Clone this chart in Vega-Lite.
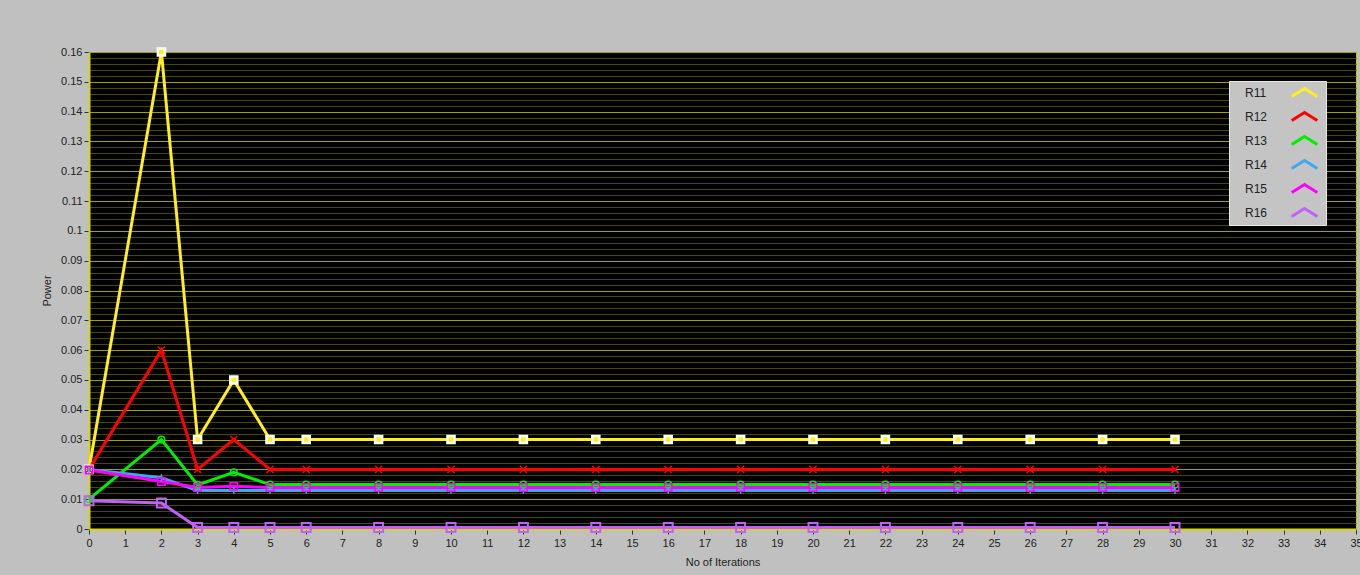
{
  "$schema": "https://vega.github.io/schema/vega-lite/v6.json",
  "width": 1267,
  "height": 477,
  "autosize": {"type": "none"},
  "padding": {"left": 89, "top": 52, "right": 4, "bottom": 46},
  "background": "#c0c0c0",
  "config": {
    "view": {"fill": "#000000", "stroke": "#c8c800", "strokeWidth": 1},
    "font": "Liberation Sans",
    "axis": {"labelFont": "Liberation Sans", "titleFont": "Liberation Sans", "labelFontSize": 11, "titleFontSize": 11, "titleFontWeight": "normal", "labelColor": "#222222", "titleColor": "#222222", "tickColor": "#333333", "tickSize": 5}
  },
  "datasets": {
    "power": [
      {"s": "R11", "x": 0, "y": 0.02}, {"s": "R11", "x": 2, "y": 0.16}, {"s": "R11", "x": 3, "y": 0.03}, {"s": "R11", "x": 4, "y": 0.05}, {"s": "R11", "x": 5, "y": 0.03}, {"s": "R11", "x": 6, "y": 0.03}, {"s": "R11", "x": 8, "y": 0.03}, {"s": "R11", "x": 10, "y": 0.03}, {"s": "R11", "x": 12, "y": 0.03}, {"s": "R11", "x": 14, "y": 0.03}, {"s": "R11", "x": 16, "y": 0.03}, {"s": "R11", "x": 18, "y": 0.03}, {"s": "R11", "x": 20, "y": 0.03}, {"s": "R11", "x": 22, "y": 0.03}, {"s": "R11", "x": 24, "y": 0.03}, {"s": "R11", "x": 26, "y": 0.03}, {"s": "R11", "x": 28, "y": 0.03}, {"s": "R11", "x": 30, "y": 0.03},
      {"s": "R12", "x": 0, "y": 0.02}, {"s": "R12", "x": 2, "y": 0.06}, {"s": "R12", "x": 3, "y": 0.02}, {"s": "R12", "x": 4, "y": 0.03}, {"s": "R12", "x": 5, "y": 0.02}, {"s": "R12", "x": 6, "y": 0.02}, {"s": "R12", "x": 8, "y": 0.02}, {"s": "R12", "x": 10, "y": 0.02}, {"s": "R12", "x": 12, "y": 0.02}, {"s": "R12", "x": 14, "y": 0.02}, {"s": "R12", "x": 16, "y": 0.02}, {"s": "R12", "x": 18, "y": 0.02}, {"s": "R12", "x": 20, "y": 0.02}, {"s": "R12", "x": 22, "y": 0.02}, {"s": "R12", "x": 24, "y": 0.02}, {"s": "R12", "x": 26, "y": 0.02}, {"s": "R12", "x": 28, "y": 0.02}, {"s": "R12", "x": 30, "y": 0.02},
      {"s": "R13", "x": 0, "y": 0.01}, {"s": "R13", "x": 2, "y": 0.03}, {"s": "R13", "x": 3, "y": 0.0148}, {"s": "R13", "x": 4, "y": 0.019}, {"s": "R13", "x": 5, "y": 0.0149}, {"s": "R13", "x": 6, "y": 0.0149}, {"s": "R13", "x": 8, "y": 0.0149}, {"s": "R13", "x": 10, "y": 0.0149}, {"s": "R13", "x": 12, "y": 0.0149}, {"s": "R13", "x": 14, "y": 0.0149}, {"s": "R13", "x": 16, "y": 0.0149}, {"s": "R13", "x": 18, "y": 0.0149}, {"s": "R13", "x": 20, "y": 0.0149}, {"s": "R13", "x": 22, "y": 0.0149}, {"s": "R13", "x": 24, "y": 0.0149}, {"s": "R13", "x": 26, "y": 0.0149}, {"s": "R13", "x": 28, "y": 0.0149}, {"s": "R13", "x": 30, "y": 0.0149},
      {"s": "R14", "x": 0, "y": 0.02}, {"s": "R14", "x": 2, "y": 0.0172}, {"s": "R14", "x": 3, "y": 0.0129}, {"s": "R14", "x": 4, "y": 0.0129}, {"s": "R14", "x": 5, "y": 0.0129}, {"s": "R14", "x": 6, "y": 0.0129}, {"s": "R14", "x": 8, "y": 0.0129}, {"s": "R14", "x": 10, "y": 0.0129}, {"s": "R14", "x": 12, "y": 0.0129}, {"s": "R14", "x": 14, "y": 0.0129}, {"s": "R14", "x": 16, "y": 0.0129}, {"s": "R14", "x": 18, "y": 0.0129}, {"s": "R14", "x": 20, "y": 0.0129}, {"s": "R14", "x": 22, "y": 0.0129}, {"s": "R14", "x": 24, "y": 0.0129}, {"s": "R14", "x": 26, "y": 0.0129}, {"s": "R14", "x": 28, "y": 0.0129}, {"s": "R14", "x": 30, "y": 0.0129},
      {"s": "R15", "x": 0, "y": 0.0198}, {"s": "R15", "x": 2, "y": 0.0159}, {"s": "R15", "x": 3, "y": 0.0139}, {"s": "R15", "x": 4, "y": 0.0143}, {"s": "R15", "x": 5, "y": 0.0139}, {"s": "R15", "x": 6, "y": 0.0139}, {"s": "R15", "x": 8, "y": 0.0139}, {"s": "R15", "x": 10, "y": 0.0139}, {"s": "R15", "x": 12, "y": 0.0139}, {"s": "R15", "x": 14, "y": 0.0139}, {"s": "R15", "x": 16, "y": 0.0139}, {"s": "R15", "x": 18, "y": 0.0139}, {"s": "R15", "x": 20, "y": 0.0139}, {"s": "R15", "x": 22, "y": 0.0139}, {"s": "R15", "x": 24, "y": 0.0139}, {"s": "R15", "x": 26, "y": 0.0139}, {"s": "R15", "x": 28, "y": 0.0139}, {"s": "R15", "x": 30, "y": 0.0139},
      {"s": "R16", "x": 0, "y": 0.0095}, {"s": "R16", "x": 2, "y": 0.0087}, {"s": "R16", "x": 3, "y": 0.0005}, {"s": "R16", "x": 4, "y": 0.0005}, {"s": "R16", "x": 5, "y": 0.0005}, {"s": "R16", "x": 6, "y": 0.0005}, {"s": "R16", "x": 8, "y": 0.0005}, {"s": "R16", "x": 10, "y": 0.0005}, {"s": "R16", "x": 12, "y": 0.0005}, {"s": "R16", "x": 14, "y": 0.0005}, {"s": "R16", "x": 16, "y": 0.0005}, {"s": "R16", "x": 18, "y": 0.0005}, {"s": "R16", "x": 20, "y": 0.0005}, {"s": "R16", "x": 22, "y": 0.0005}, {"s": "R16", "x": 24, "y": 0.0005}, {"s": "R16", "x": 26, "y": 0.0005}, {"s": "R16", "x": 28, "y": 0.0005}, {"s": "R16", "x": 30, "y": 0.0005}
    ]
  },
  "data": {"name": "power"},
  "encoding": {
    "x": {"field": "x", "type": "quantitative", "scale": {"domain": [0, 35], "nice": false},
      "axis": {"values": [0,1,2,3,4,5,6,7,8,9,10,11,12,13,14,15,16,17,18,19,20,21,22,23,24,25,26,27,28,29,30,31,32,33,34,35], "labelOverlap": false, "title": "No of Iterations", "grid": false, "domainColor": "#d8d800", "domainWidth": 2, "labelPadding": 3, "titlePadding": 8, "labelFlush": false}},
    "y": {"field": "y", "type": "quantitative", "scale": {"domain": [0, 0.16], "nice": false},
      "axis": {"values": [0,0.002,0.004,0.006,0.008,0.01,0.012,0.014,0.016,0.018,0.02,0.022,0.024,0.026,0.028,0.03,0.032,0.034,0.036,0.038,0.04,0.042,0.044,0.046,0.048,0.05,0.052,0.054,0.056,0.058,0.06,0.062,0.064,0.066,0.068,0.07,0.072,0.074,0.076,0.078,0.08,0.082,0.084,0.086,0.088,0.09,0.092,0.094,0.096,0.098,0.1,0.102,0.104,0.106,0.108,0.11,0.112,0.114,0.116,0.118,0.12,0.122,0.124,0.126,0.128,0.13,0.132,0.134,0.136,0.138,0.14,0.142,0.144,0.146,0.148,0.15,0.152,0.154,0.156,0.158,0.16],
        "labelExpr": "abs(datum.value*100 - round(datum.value*100)) < 0.01 ? format(datum.value, '.2~f') : ''",
        "labelOverlap": false, "labelFlush": false, "title": "Power", "titlePadding": 8, "grid": true,
        "gridColor": {"condition": {"test": "abs(datum.value*100 - round(datum.value*100)) < 0.01", "value": "#a0a000"}, "value": "#484800"},
        "gridWidth": {"condition": {"test": "abs(datum.value*100 - round(datum.value*100)) < 0.01", "value": 1.2}, "value": 1},
        "tickColor": {"condition": {"test": "abs(datum.value*100 - round(datum.value*100)) < 0.01", "value": "#333333"}, "value": "transparent"},
        "domainColor": "#d8d800", "domainWidth": 2}}
  },
  "layer": [
    {
      "mark": {"type": "line", "strokeWidth": 3, "strokeJoin": "miter"},
      "encoding": {
        "color": {"field": "s", "type": "nominal",
          "scale": {"domain": ["R11","R12","R13","R14","R15","R16"], "range": ["#ffee22", "#ff0000", "#00ee00", "#3aaaf0", "#ff00ff", "#c060ff"]},
          "legend": {"title": null, "orient": "none", "legendX": 1140, "legendY": 29, "fillColor": "#c4c4c4", "strokeColor": "#e8e8e8", "padding": 2, "rowPadding": 3, "labelFont": "Liberation Sans", "labelFontSize": 12, "labelColor": "#222222", "symbolType": "M-1.6,0.5L0,-0.5L1.6,0.5", "symbolStrokeWidth": 3, "symbolSize": 256, "symbolOffset": 64, "labelOffset": -69}},
        "strokeWidth": {"condition": {"test": "datum.s === 'R16'", "value": 5}, "value": 3},
        "order": {"field": "x", "type": "quantitative"}
      }
    },
    {
      "transform": [{"filter": "datum.s === 'R11'"}],
      "mark": {"type": "point", "shape": "square", "size": 50, "strokeWidth": 2.5, "stroke": "#ffffff", "fill": "#ffee22", "filled": true, "opacity": 1}
    },
    {
      "transform": [{"filter": "datum.s === 'R12'"}],
      "mark": {"type": "point", "shape": "M-1,-1L1,1M-1,1L1,-1", "size": 50, "strokeWidth": 1.5, "stroke": "#ff0000", "fill": "transparent", "opacity": 1}
    },
    {
      "transform": [{"filter": "datum.s === 'R13'"}],
      "mark": {"type": "point", "shape": "circle", "size": 45, "strokeWidth": 1.5, "stroke": "#00ee00", "fill": "transparent", "opacity": 1}
    },
    {
      "transform": [{"filter": "datum.s === 'R14'"}],
      "mark": {"type": "point", "shape": "M-1,0L1,0M0,-1L0,1", "size": 50, "strokeWidth": 1.5, "stroke": "#3aaaf0", "fill": "transparent", "opacity": 1}
    },
    {
      "transform": [{"filter": "datum.s === 'R15'"}],
      "mark": {"type": "point", "shape": "square", "size": 55, "strokeWidth": 1.5, "stroke": "#ff00ff", "fill": "transparent", "opacity": 1}
    },
    {
      "transform": [{"filter": "datum.s === 'R16'"}],
      "mark": {"type": "point", "shape": "square", "size": 80, "strokeWidth": 2, "stroke": "#c060ff", "fill": "transparent", "opacity": 1}
    }
  ]
}
